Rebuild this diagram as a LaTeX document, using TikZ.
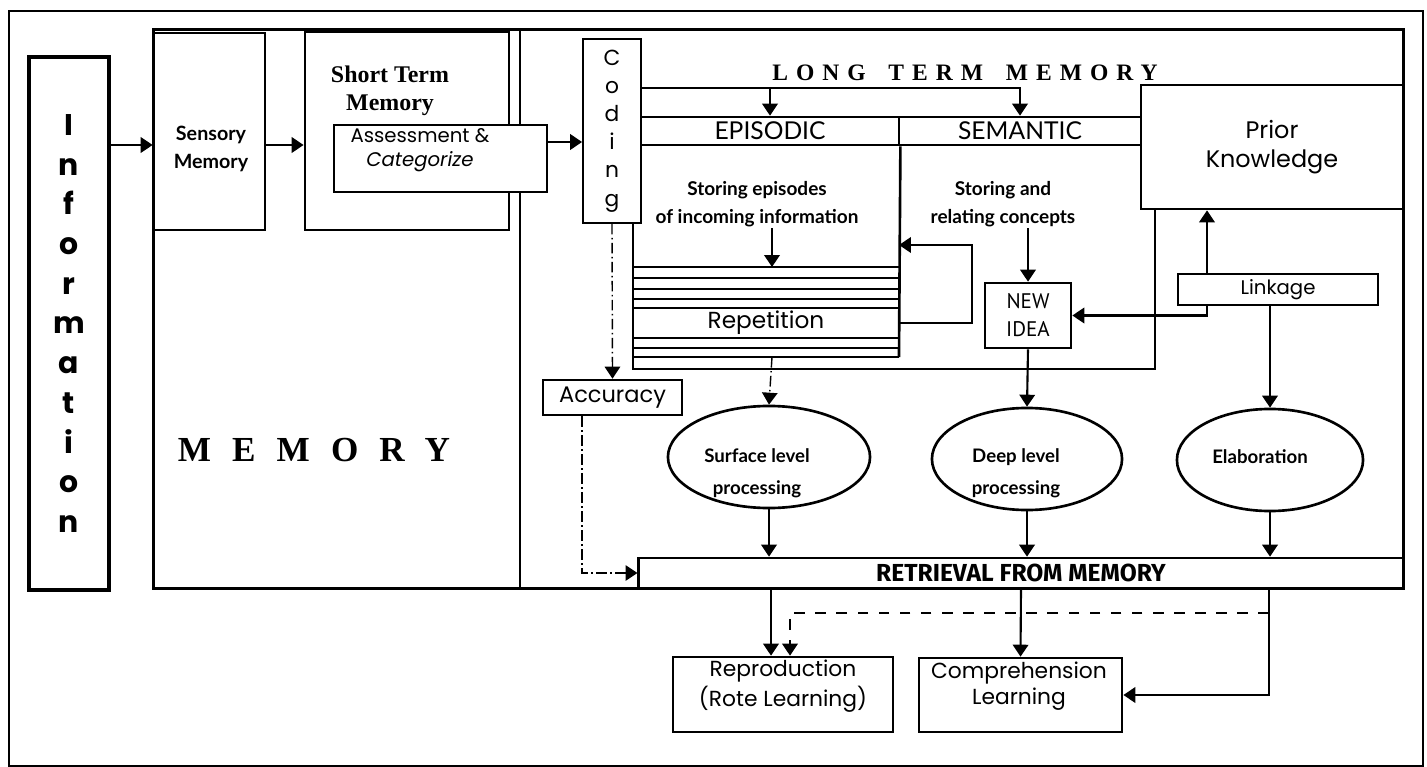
\documentclass[tikz,border=0pt]{standalone}
\usepackage{fontspec}
\setmainfont{Liberation Serif}
\newfontfamily\gothicfont{Poppins}
\newfontfamily\humfont{Lato}
\newfontfamily\gillfont{PT Sans}
\newfontfamily\condfont{Fira Sans}
\newfontfamily\spacedserif[LetterSpace=34]{Liberation Serif}
\newfontfamily\widespaced[LetterSpace=60]{Liberation Serif}
\usetikzlibrary{arrows.meta, calc, positioning, shapes.geometric}

\begin{document}
\begin{tikzpicture}[
    x=0.01cm, y=-0.01cm,
    line width=0.75pt,
    box/.style={draw, inner sep=0pt},
    arr/.style={-{Triangle[length=3.4pt, width=4.4pt]}, line width=0.6pt},
    dotarr/.style={arr, line width=0.4pt, densely dashdotted},
    proc/.style={ellipse, draw, inner sep=0pt, minimum height=1.02cm},
    gothic/.style={font=\gothicfont\fontsize{6.2}{7.4}\selectfont, align=center, inner sep=0pt},
    humbold/.style={font=\humfont\bfseries\fontsize{5.4}{8}\selectfont, align=center, inner sep=0pt},
    humcaps/.style={font=\humfont\fontsize{7}{8}\selectfont, align=center, inner sep=0pt},
  ]
  \useasboundingbox (0,0) rectangle (1427,767);

  % Rahmen
  \draw[line width=0.8pt] (9,11) rectangle (1423,766);

  % Information
  \node[box, line width=1.1pt, minimum width=0.8cm, minimum height=5.33cm,
        font=\gothicfont\bfseries\fontsize{8.5}{11.3}\selectfont, align=center] (info)
        at (69,323.5) {I\\n\\f\\o\\r\\m\\a\\t\\i\\o\\n};

  % Memory
  \node[box, line width=0.9pt, minimum width=12.49cm, minimum height=5.58cm] (memory) at (778.5,309) {};
  \draw (memory.north -| 520,0) -- (memory.south -| 520,0);
  \node[box, minimum width=1.11cm, minimum height=1.97cm] (sensory) at (209.5,131.5) {};
  \node[humbold, font=\humfont\bfseries\fontsize{5.6}{8}\selectfont] (sensorytext) at (211,149) {Sensory\\Memory};
  \node[box, minimum width=2.04cm, minimum height=1.98cm] (stm) at (407,131) {};
  \node[font=\bfseries\fontsize{6.8}{8}\selectfont, align=center, inner sep=0pt] (stmtext) at (390,91) {Short Term\\Memory};
  \node[box, fill=white, minimum width=2.13cm, minimum height=0.67cm] (assess) at (440.5,158.5) {};
  \node[gothic, font=\gothicfont\fontsize{5.6}{7}\selectfont] (assesstext) at (420,150) {Assessment \&\\\textit{Categorize}};
  \node[font=\widespaced\bfseries\fontsize{10}{12}\selectfont, inner sep=0pt] (memorytext) at (314,450) {MEMORY};
  \draw[arr] (info.east |- 0,145) -- (sensory.west |- 0,145);
  \draw[arr] (sensory.east |- 0,145) -- (stm.west |- 0,145);

  % Long term memory
  \node[box, line width=0.5pt, minimum width=0.58cm, minimum height=1.84cm,
        font=\gothicfont\fontsize{6.2}{8}\selectfont, align=center] (coding) at (612,131) {C\\o\\d\\i\\n\\g};
  \draw[arr] (assess.east |- 0,142) -- (coding.west |- 0,142);
  \node[font=\spacedserif\bfseries\fontsize{6.7}{8}\selectfont, inner sep=0pt] (ltmtext) at (965,73) {LONG\hspace{2.5pt} TERM\hspace{2.5pt} MEMORY};
  \node[box, minimum width=2.58cm, minimum height=0.28cm, humcaps] (epi) at (770,131) {EPISODIC};
  \node[box, minimum width=2.42cm, minimum height=0.28cm, humcaps] (sem) at (1020,131) {SEMANTIC};
  \draw[arr] (coding.east |- 0,88) -| (sem.north);
  \draw[arr] (epi.north |- 0,88) -- (epi.north);
  \node[box, minimum width=2.62cm, minimum height=1.24cm, gothic, font=\gothicfont\fontsize{6.8}{8.2}\selectfont] (prior) at (1272,147) {Prior\\Knowledge};

  % Episodic / semantic
  \draw (coding.south -| 633,0) -- (633,369) -- (1155,369) -- (prior.south -| 1155,0);
  \draw (epi.south east) -- (899,357);
  \foreach \y in {267,278,289,299,348,357}
    \draw (633,\y) -- (899,\y);
  \node[box, minimum width=2.66cm, minimum height=0.3cm, gothic, font=\gothicfont\fontsize{6.6}{8}\selectfont] (rep) at (766,323) {Repetition};
  \coordinate (stripetop) at (772,267);
  \coordinate (stripebot) at (772,357);
  \coordinate (epiright) at (899,245);
  \node[humbold] (epitext) at (757,204) {Storing episodes\\of incoming information};
  \draw[arr] (epitext.south -| stripetop) -- (stripetop);
  \draw[arr] (rep.east) -- ++(72,0) |- (epiright);

  \node[humbold] (semtext) at (1003,204) {Storing and\\relating concepts};
  \node[box, minimum width=0.86cm, minimum height=0.65cm, font=\gillfont\fontsize{6}{8}\selectfont, align=center] (newidea) at (1028,315.5) {NEW\\IDEA};
  \draw[arr] (semtext.south -| newidea.north) -- (newidea.north);
  \node[box, minimum width=2cm, minimum height=0.31cm, gothic, font=\gothicfont\fontsize{5.6}{7}\selectfont] (linkage) at (1278,289.5) {Linkage};
  \draw[arr] (linkage.north -| 1207,0) -- (prior.south -| 1207,0);
  \draw[arr] (linkage.south -| 1207,0) |- (newidea.east);

  % Verarbeitung
  \node[proc, minimum width=2.02cm] (surface) at (769,457) {};
  \node[humbold, font=\humfont\bfseries\fontsize{5.3}{9}\selectfont] (surfacetext) at (757,473) {Surface level\\processing};
  \node[proc, minimum width=1.9cm] (deep) at (1027,459) {};
  \node[humbold, font=\humfont\bfseries\fontsize{5.3}{9}\selectfont] (deeptext) at (1016,473) {Deep level\\processing};
  \node[proc, minimum width=1.86cm] (elab) at (1270,460) {};
  \node[humbold, font=\humfont\bfseries\fontsize{5.3}{9}\selectfont] (elabtext) at (1260,457) {Elaboration};
  \draw[dotarr] (stripebot) -- (surface.north);
  \draw[arr] (newidea.south) -- (deep.north);
  \draw[arr] (linkage.south -| elab.north) -- (elab.north);

  % Retrieval
  \node[box, minimum width=7.64cm, minimum height=0.3cm, font=\condfont\bfseries\fontsize{7}{8}\selectfont] (retrieval) at (1021,573) {RETRIEVAL FROM MEMORY};
  \foreach \p in {surface, deep, elab}
    \draw[arr] (\p.south) -- (\p.south |- retrieval.north);
  \node[box, minimum width=1.39cm, minimum height=0.35cm, gothic, font=\gothicfont\fontsize{6.4}{8}\selectfont] (accuracy) at (612.5,397.5) {Accuracy};
  \draw[dotarr] (coding.south) -- (accuracy.north);
  \draw[dotarr] (accuracy.south -| 582,0) |- (retrieval.west);

  % Lernen
  \node[box, minimum width=2.2cm, minimum height=0.75cm] (repro) at (783,694.5) {};
  \node[gothic] (reprotext) at (783,686) {Reproduction\\(Rote Learning)};
  \node[box, minimum width=2.03cm, minimum height=0.74cm] (comp) at (1020.5,695) {};
  \node[gothic] (comptext) at (1019,686) {Comprehension\\Learning};
  \coordinate (branch) at (1269,613);
  \draw[arr] (retrieval.south -| 771,0) -- (repro.north -| 771,0);
  \draw[arr] (retrieval.south) -- (comp.north);
  \draw[arr] (retrieval.south -| branch) |- (comp.east);
  \draw[arr, dashed] (branch) -| (repro.north -| 790,0);
\end{tikzpicture}
\end{document}
